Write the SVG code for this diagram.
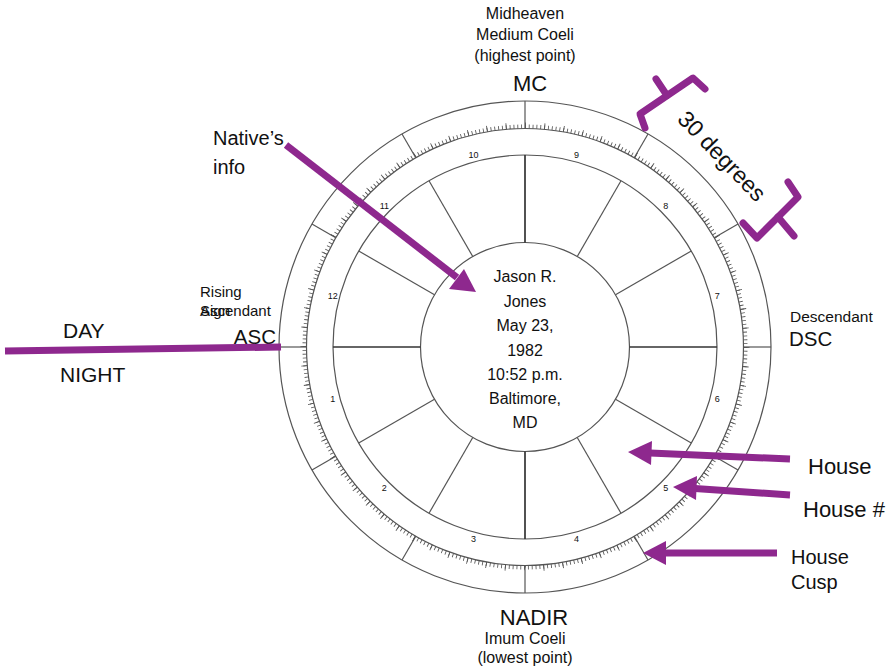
<svg xmlns="http://www.w3.org/2000/svg" xmlns:xlink="http://www.w3.org/1999/xlink" width="896" height="671" viewBox="0 0 896 671">
<style>
text{font-family:"Liberation Sans",Arial,sans-serif;fill:#111}
.ring{fill:none;stroke:#555;stroke-width:1.2}
.cusp{stroke:#555;stroke-width:1.2}
.axis{stroke:#333;stroke-width:1.7}
.num{font-size:9px;fill:#444;text-anchor:middle}
.pl{fill:none;stroke:#8E288E;stroke-width:7}
.br{fill:none;stroke:#8E288E;stroke-width:7;stroke-linejoin:round;stroke-linecap:round}
.ah{fill:#8E288E}
.mid{text-anchor:middle}
</style>
<defs>
<line id="hl" x1="104.5" y1="0" x2="192" y2="0"/>
<line id="ol" x1="218.5" y1="0" x2="246" y2="0"/>
</defs>
<rect width="896" height="671" fill="#fff"/>
<g id="chart" transform="translate(525,347)">
<circle class="ring" r="246"/>
<circle class="ring" r="218.5"/>
<circle class="ring" r="192"/>
<circle class="ring" r="104.5"/>
<circle r="220.5" fill="none" stroke="#555" stroke-width="4" pathLength="360" stroke-dasharray="0.22 0.78"/>
<circle r="221.5" fill="none" stroke="#555" stroke-width="6" pathLength="360" stroke-dasharray="0.22 4.78"/>
<g class="cusp">
<use xlink:href="#ol"/>
<use xlink:href="#ol" transform="rotate(30)"/>
<use xlink:href="#ol" transform="rotate(60)"/>
<use xlink:href="#ol" transform="rotate(90)"/>
<use xlink:href="#ol" transform="rotate(120)"/>
<use xlink:href="#ol" transform="rotate(150)"/>
<use xlink:href="#ol" transform="rotate(180)"/>
<use xlink:href="#ol" transform="rotate(210)"/>
<use xlink:href="#ol" transform="rotate(240)"/>
<use xlink:href="#ol" transform="rotate(270)"/>
<use xlink:href="#ol" transform="rotate(300)"/>
<use xlink:href="#ol" transform="rotate(330)"/>
<use xlink:href="#hl" transform="rotate(30)"/>
<use xlink:href="#hl" transform="rotate(60)"/>
<use xlink:href="#hl" transform="rotate(120)"/>
<use xlink:href="#hl" transform="rotate(150)"/>
<use xlink:href="#hl" transform="rotate(210)"/>
<use xlink:href="#hl" transform="rotate(240)"/>
<use xlink:href="#hl" transform="rotate(300)"/>
<use xlink:href="#hl" transform="rotate(330)"/>
</g>
<g class="axis">
<use xlink:href="#hl"/>
<use xlink:href="#hl" transform="rotate(90)"/>
<use xlink:href="#hl" transform="rotate(180)"/>
<use xlink:href="#hl" transform="rotate(270)"/>
</g>
<g class="num">
<text x="-192.2" y="54.5">1</text>
<text x="-140.7" y="143.7">2</text>
<text x="-51.5" y="195.2">3</text>
<text x="51.5" y="195.2">4</text>
<text x="140.7" y="143.7">5</text>
<text x="192.2" y="54.5">6</text>
<text x="192.2" y="-48.5">7</text>
<text x="140.7" y="-137.7">8</text>
<text x="51.5" y="-189.2">9</text>
<text x="-51.5" y="-189.2">10</text>
<text x="-140.7" y="-137.7">11</text>
<text x="-192.2" y="-48.5">12</text>
</g>
</g>
<g id="native-info-text" font-size="16" class="mid">
<text x="525" y="282">Jason R.</text>
<text x="525" y="306.5">Jones</text>
<text x="525" y="331">May 23,</text>
<text x="525" y="355.5">1982</text>
<text x="525" y="380">10:52 p.m.</text>
<text x="525" y="404">Baltimore,</text>
<text x="525" y="428">MD</text>
</g>
<g id="mc-label" class="mid">
<text x="525" y="18.5" font-size="16">Midheaven</text>
<text x="525" y="39.5" font-size="16">Medium Coeli</text>
<text x="525" y="60.5" font-size="16">(highest point)</text>
<text x="530" y="91" font-size="22">MC</text>
</g>
<g id="nadir-label" class="mid">
<text x="534" y="625" font-size="22">NADIR</text>
<text x="525" y="644" font-size="16">Imum Coeli</text>
<text x="525" y="662.5" font-size="16">(lowest point)</text>
</g>
<g id="asc-label">
<text x="200" y="297" font-size="15">Rising</text>
<text x="200" y="316" font-size="15">Sign</text>
<text x="200" y="316" font-size="15">Ascendant</text>
<text x="276" y="343.5" font-size="20.5" text-anchor="end">ASC</text>
</g>
<g id="dsc-label">
<text x="790" y="321.5" font-size="15.5">Descendant</text>
<text x="789" y="346" font-size="20.5">DSC</text>
</g>
<g id="native-label">
<text x="213" y="145" font-size="20">Native’s</text>
<text x="213" y="174" font-size="20">info</text>
</g>
<g id="day-night">
<text x="63" y="338" font-size="21">DAY</text>
<text x="60" y="382" font-size="21">NIGHT</text>
</g>
<g id="house-labels">
<text x="808" y="474" font-size="22">House</text>
<text x="803" y="517" font-size="22">House #</text>
<text x="791" y="564" font-size="20">House</text>
<text x="791" y="589" font-size="20">Cusp</text>
</g>
<g id="degrees-label">
<text transform="translate(722,156) rotate(46)" y="8" font-size="23" class="mid">30 degrees</text>
</g>
<g id="connectors">
<line class="pl" x1="5" y1="351" x2="281" y2="347" stroke-width="6"/>
<line class="pl" x1="286" y1="145" x2="457" y2="277.5"/>
<polygon class="ah" points="476,292 449,289 464,269"/>
<line class="pl" x1="790" y1="459" x2="650" y2="453"/>
<polygon class="ah" points="628,452 652,441 651,465"/>
<line class="pl" x1="790" y1="495" x2="695" y2="488.5"/>
<polygon class="ah" points="673,487 697,476 696,500"/>
<line class="pl" x1="777" y1="553" x2="665" y2="553"/>
<polygon class="ah" points="643,553 666,541 666,565"/>
<polyline class="br" points="645,128 640,114 693,78 705,89"/>
<line class="br" x1="667" y1="95.5" x2="656" y2="79"/>
<polyline class="br" points="788,182 798,197 757,238 743,223"/>
<line class="br" x1="778" y1="217" x2="794" y2="236"/>
</g>
</svg>
